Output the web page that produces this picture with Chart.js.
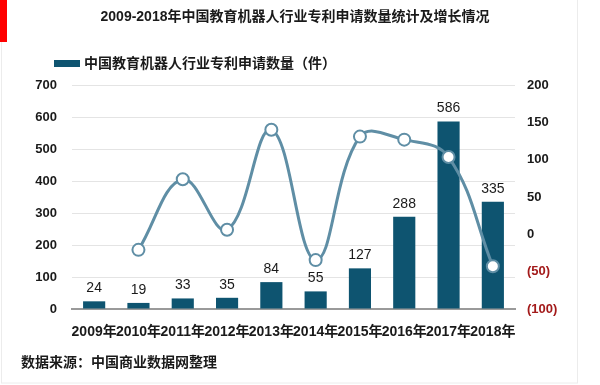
<!DOCTYPE html>
<html>
<head>
<meta charset="utf-8">
<script src="https://cdn.jsdelivr.net/npm/chart.js@4.4.1/dist/chart.umd.min.js"></script>
<style>
  html, body { margin: 0; padding: 0; background: #fff; }
  #wrap { width: 600px; height: 385px; position: relative; }
</style>
</head>
<body>
<div id="wrap"><canvas id="chart" width="600" height="385"></canvas></div>
<script>
const years = ["2009年", "2010年", "2011年", "2012年", "2013年", "2014年", "2015年", "2016年", "2017年", "2018年"];
const patents = [24, 19, 33, 35, 84, 55, 127, 288, 586, 335];
const growth = [null, -20.8, 73.7, 6.1, 140.0, -34.5, 130.9, 126.8, 103.5, -42.8];
const leftTicks = [0, 100, 200, 300, 400, 500, 600, 700];
const rightTicks = [-100, -50, 0, 50, 100, 150, 200];

const titleText = "2009-2018年中国教育机器人行业专利申请数量统计及增长情况";
const legendText = "中国教育机器人行业专利申请数量（件）";
const sourceText = "数据来源：中国商业数据网整理";

const FONT = '"Liberation Sans", Arial, "Noto Sans CJK SC", sans-serif';
const barColor = "#0e5470";
const lineColor = "#5f8ea5";

// frame, red mark, title, legend and source note
const decor = {
  id: "decor",
  beforeDraw(chart) {
    const c = chart.ctx;
    c.save();
    c.strokeStyle = "#ececec";
    c.lineWidth = 1;
    c.strokeRect(1.5, -1, 576, 384);
    c.fillStyle = "#ff0000";
    c.fillRect(0, 0, 7, 42);
    c.restore();
  },
  afterDraw(chart) {
    const c = chart.ctx;
    c.save();
    c.fillStyle = "#1a1a1a";
    c.textBaseline = "middle";
    c.font = "bold 14px " + FONT;
    c.textAlign = "center";
    c.fillText(titleText, 295, 17);

    c.fillStyle = barColor;
    c.fillRect(54, 60, 26, 7);
    c.fillStyle = "#1a1a1a";
    c.textAlign = "left";
    c.font = "bold 14px " + FONT;
    c.fillText(legendText, 84, 64);

    c.font = "bold 14px " + FONT;
    c.fillText(sourceText, 21, 363);
    c.restore();
  }
};

// value labels above the bars
const barLabels = {
  id: "barLabels",
  afterDatasetsDraw(chart) {
    const meta = chart.getDatasetMeta(0);
    const c = chart.ctx;
    c.save();
    c.font = "14px " + FONT;
    c.fillStyle = "#1a1a1a";
    c.textAlign = "center";
    c.textBaseline = "bottom";
    meta.data.forEach((bar, i) => {
      c.fillText(patents[i], bar.x, bar.y - 6);
    });
    c.restore();
  }
};

new Chart(document.getElementById("chart"), {
  data: {
    labels: years,
    datasets: [
      {
        type: "bar",
        data: patents,
        backgroundColor: barColor,
        categoryPercentage: 1,
        barPercentage: 0.5,
        yAxisID: "y",
        order: 1
      },
      {
        type: "line",
        data: growth,
        borderColor: lineColor,
        borderWidth: 3,
        tension: 0.4,
        pointRadius: 6,
        pointBorderWidth: 2,
        pointBackgroundColor: "#ffffff",
        pointBorderColor: lineColor,
        spanGaps: false,
        yAxisID: "y1",
        order: 0
      }
    ]
  },
  options: {
    responsive: false,
    animation: false,
    layout: { padding: { top: 85, bottom: 36, left: 0, right: 0 } },
    plugins: {
      legend: { display: false },
      tooltip: { enabled: false }
    },
    scales: {
      x: {
        grid: { display: false },
        border: { display: true, color: "#9a9a9a", width: 2 },
        ticks: {
          color: "#1a1a1a",
          font: { family: FONT, size: 14, weight: "bold" },
          padding: 7,
          maxRotation: 0,
          autoSkip: false
        },
        afterFit: s => { s.height = 40; }
      },
      y: {
        position: "left",
        min: 0,
        max: 700,
        afterBuildTicks: s => { s.ticks = leftTicks.map(v => ({ value: v })); },
        grid: {
          drawTicks: false,
          color: ctx => ctx.tick && ctx.tick.value === 0 ? "rgba(0,0,0,0)" : "#e4e4e4"
        },
        border: { display: false },
        ticks: {
          color: "#1a1a1a",
          font: { family: FONT, size: 13, weight: "bold" },
          padding: 15
        },
        afterFit: s => { s.width = 72; }
      },
      y1: {
        position: "right",
        min: -100,
        max: 200,
        afterBuildTicks: s => { s.ticks = rightTicks.map(v => ({ value: v })); },
        grid: { display: false, drawTicks: false },
        border: { display: false },
        ticks: {
          color: ctx => ctx.tick.value < 0 ? "#a31a1a" : "#1a1a1a",
          font: { family: FONT, size: 13, weight: "bold" },
          padding: 12,
          callback: v => v < 0 ? "(" + (-v) + ")" : String(v)
        },
        afterFit: s => { s.width = 85; }
      }
    }
  },
  plugins: [decor, barLabels]
});
</script>
</body>
</html>
